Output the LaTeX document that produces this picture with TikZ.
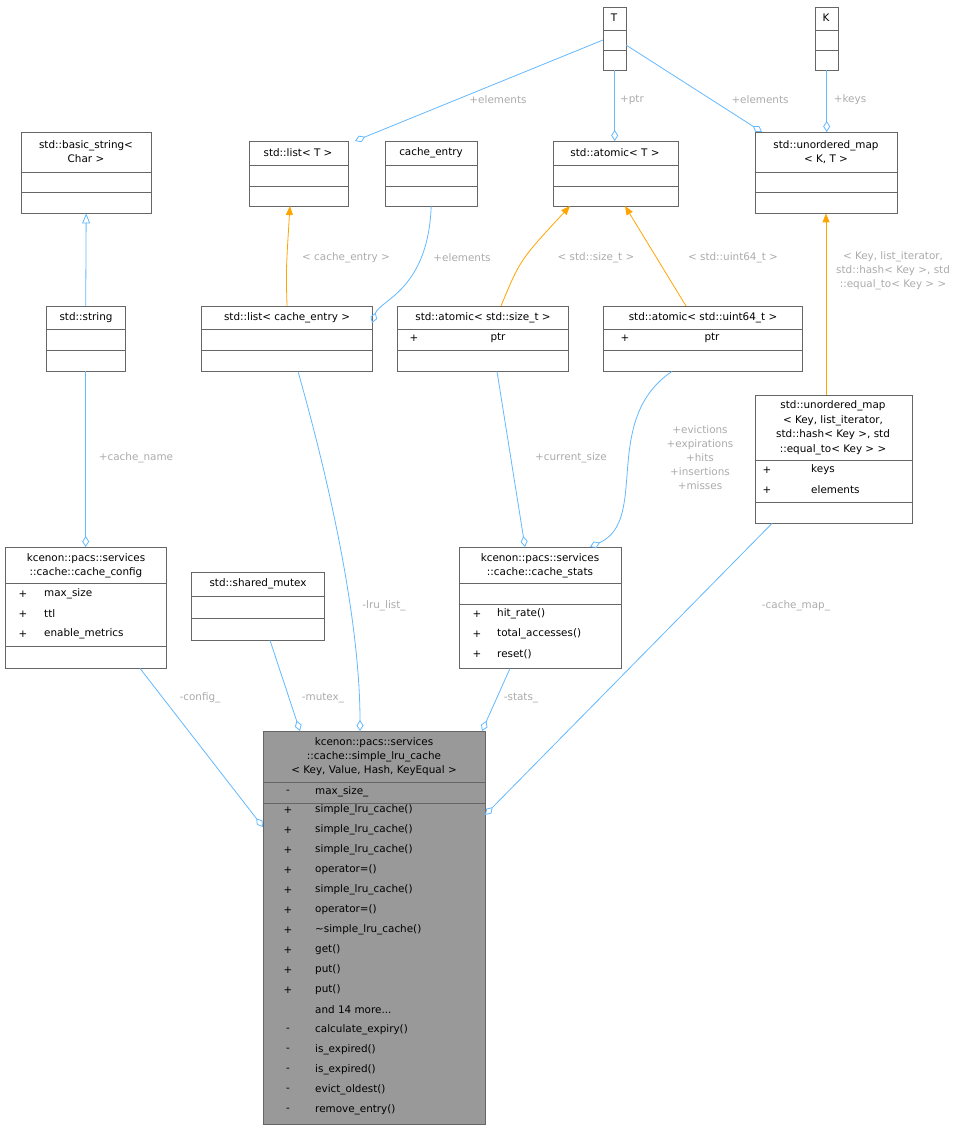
\documentclass[tikz,border=0pt]{standalone}
\usepackage{fontspec}
\setmainfont{DejaVu Sans}
\usetikzlibrary{arrows.meta,calc}
\definecolor{edgeblue}{HTML}{63B8FF}
\definecolor{edgeorange}{HTML}{FFA500}
\definecolor{lblgray}{HTML}{ABABAB}
\definecolor{mainfill}{HTML}{999999}
\definecolor{boxline}{HTML}{666666}
\newcommand{\moretxt}{and 14 more...}
\begin{document}
\begin{tikzpicture}[x=1pt,y=-1pt,font=\fontsize{10.4}{14}\selectfont,
    cls/.style={draw=boxline,fill=white,anchor=north west,inner sep=0pt},
    txt/.style={inner sep=0pt},
    row/.style={inner sep=0pt,anchor=west},
    sep/.style={draw=boxline},
    memb/.style={draw=edgeblue,line width=0.8pt,-{Diamond[open,length=11pt,width=7pt]}},
    tmpl/.style={draw=edgeorange,line width=0.8pt,-{Triangle[length=9pt,width=7pt]}},
    inh/.style={draw=edgeblue,line width=0.8pt,-{Triangle[open,length=10pt,width=8pt]}},
    lbl/.style={text=lblgray,inner sep=0pt,align=center}]
  \useasboundingbox (0,0) rectangle (978,1131);
  % template parameters
  \node[cls,minimum width=23,minimum height=63] (T) at (603,7) {};
  \node[txt] at (614,18) {T};
  \draw[sep] (603,30) -- (626,30) (603,50) -- (626,50);
  \node[cls,minimum width=23,minimum height=63] (K) at (815,7) {};
  \node[txt] at (826,18) {K};
  \draw[sep] (815,30) -- (838,30) (815,50) -- (838,50);
  % top row
  \node[cls,minimum width=130,minimum height=81] (bstr) at (21,132) {};
  \node[txt,align=center] at (86,152) {std::basic\_string<\\Char >};
  \draw[sep] (21,172) -- (151,172) (21,192) -- (151,192);
  \node[cls,minimum width=99,minimum height=65] (listT) at (249,141) {};
  \node[txt] at (298,153) {std::list< T >};
  \draw[sep] (249,165) -- (348,165) (249,186) -- (348,186);
  \node[cls,minimum width=92,minimum height=65] (entry) at (385,141) {};
  \node[txt] at (431,153) {cache\_entry};
  \draw[sep] (385,165) -- (477,165) (385,186) -- (477,186);
  \node[cls,minimum width=125,minimum height=65] (atomT) at (553,141) {};
  \node[txt] at (615,153) {std::atomic< T >};
  \draw[sep] (553,165) -- (678,165) (553,186) -- (678,186);
  \node[cls,minimum width=142,minimum height=81] (mapKT) at (755,132) {};
  \node[txt,align=center] at (826,152) {std::unordered\_map\\< K, T >};
  \draw[sep] (755,172) -- (897,172) (755,192) -- (897,192);
  % second row
  \node[cls,minimum width=79,minimum height=65] (str) at (46,306) {};
  \node[txt] at (86,318) {std::string};
  \draw[sep] (46,329) -- (125,329) (46,350) -- (125,350);
  \node[cls,minimum width=171,minimum height=65] (listE) at (201,306) {};
  \node[txt] at (287,318) {std::list< cache\_entry >};
  \draw[sep] (201,329) -- (372,329) (201,350) -- (372,350);
  \node[cls,minimum width=171,minimum height=65] (atomS) at (397,306) {};
  \node[txt] at (483,318) {std::atomic< std::size\_t >};
  \draw[sep] (397,329) -- (568,329) (397,350) -- (568,350);
  \node[txt] at (414,338) {+}; \node[txt] at (498,338) {ptr};
  \node[cls,minimum width=199,minimum height=65] (atomU) at (603,306) {};
  \node[txt] at (703,318) {std::atomic< std::uint64\_t >};
  \draw[sep] (603,329) -- (802,329) (603,350) -- (802,350);
  \node[txt] at (625,338) {+}; \node[txt] at (712,338) {ptr};
  % unordered_map instance
  \node[cls,minimum width=157,minimum height=128] (map) at (755,395) {};
  \node[txt,align=center,font=\fontsize{10.4}{14.5}\selectfont] at (833,428) {std::unordered\_map\\< Key, list\_iterator,\\std::hash< Key >, std\\::equal\_to< Key > >};
  \draw[sep] (755,460) -- (912,460) (755,502) -- (912,502);
  \node[txt] at (767,470) {+}; \node[row] at (811,470) {keys};
  \node[txt] at (767,490) {+}; \node[row] at (811,490) {elements};
  % third row
  \node[cls,minimum width=161,minimum height=121] (config) at (5,547) {};
  \node[txt,align=center] at (86,566) {kcenon::pacs::services\\::cache::cache\_config};
  \draw[sep] (5,583) -- (166,583) (5,646) -- (166,646);
  \node[txt] at (23,594) {+}; \node[row] at (44,594) {max\_size};
  \node[txt] at (23,614) {+}; \node[row] at (44,614) {ttl};
  \node[txt] at (23,634) {+}; \node[row] at (44,634) {enable\_metrics};
  \node[cls,minimum width=133,minimum height=68] (mutex) at (191,572) {};
  \node[txt] at (258,584) {std::shared\_mutex};
  \draw[sep] (191,596) -- (324,596) (191,618) -- (324,618);
  \node[cls,minimum width=162,minimum height=121] (stats) at (459,547) {};
  \node[txt,align=center] at (540,566) {kcenon::pacs::services\\::cache::cache\_stats};
  \draw[sep] (459,583) -- (621,583) (459,604) -- (621,604);
  \node[txt] at (477,614) {+}; \node[row] at (497,614) {hit\_rate()};
  \node[txt] at (477,634) {+}; \node[row] at (497,634) {total\_accesses()};
  \node[txt] at (477,654) {+}; \node[row] at (497,654) {reset()};
  % main class
  \node[cls,fill=mainfill,minimum width=222,minimum height=393] (lru) at (263,731) {};
  \node[txt,align=center] at (374,757) {kcenon::pacs::services\\::cache::simple\_lru\_cache\\< Key, Value, Hash, KeyEqual >};
  \draw[sep] (263,782) -- (485,782) (263,803) -- (485,803);
  \node[txt] at (288,792) {-}; \node[row] at (315,792) {max\_size\_};
  \foreach \s/\m [count=\i from 0] in {+/simple\_lru\_cache(),+/simple\_lru\_cache(),
      +/simple\_lru\_cache(),+/operator=(),+/simple\_lru\_cache(),+/operator=(),
      +/\textasciitilde simple\_lru\_cache(),+/get(),+/put(),+/put(),{}/\moretxt,
      -/calculate\_expiry(),-/is\_expired(),-/is\_expired(),-/evict\_oldest(),-/remove\_entry()}
    {\node[txt] at (288,810+20*\i) {\s}; \node[row] at (315,810+20*\i) {\m};}
  % connectors
  \draw[memb] (T.west |- 0,40) -- (355,141);
  \node[lbl] at (498,100) {+elements};
  \draw[memb] (T.south) -- (atomT.north -| T.south);
  \node[lbl] at (632,100) {+ptr};
  \draw[memb] (626,45) -- (762,132);
  \node[lbl] at (760,100) {+elements};
  \draw[memb] (K.south) -- (mapKT.north -| K.south);
  \node[lbl] at (850,100) {+keys};
  \draw[inh] (str.north) -- (bstr.south);
  \draw[tmpl] (listE.north -| 287,0) .. controls (286,270) .. (290,206);
  \node[lbl] at (346,258) {< cache\_entry >};
  \draw[memb] (entry.south) .. controls (428,290) and (380,300) .. (372,323);
  \node[lbl] at (462,258) {+elements};
  \draw[tmpl] (atomS.north -| 501,0) .. controls (520,260) .. (570,206);
  \node[lbl] at (596,258) {< std::size\_t >};
  \draw[tmpl] (atomU.north -| 686,0) -- (625,206);
  \node[lbl] at (733,258) {< std::uint64\_t >};
  \draw[tmpl] (map.north -| 826,0) -- (mapKT.south -| 826,0);
  \node[lbl] at (893,271) {< Key, list\_iterator,\\std::hash< Key >, std\\::equal\_to< Key > >};
  \draw[memb] (str.south) -- (config.north -| str.south);
  \node[lbl] at (136,458) {+cache\_name};
  \draw[memb] (atomS.south -| 497,0) -- (525,547);
  \node[lbl] at (571,458) {+current\_size};
  \draw[memb] (atomU.south -| 672,0) .. controls (600,420) and (650,520) .. (590,547);
  \node[lbl] at (700,458) {+evictions\\+expirations\\+hits\\+insertions\\+misses};
  \draw[memb] (config.south -| 140,0) -- (263,827);
  \node[lbl] at (200,698) {-config\_};
  \draw[memb] (mutex.south -| 270,0) -- (300,731);
  \node[lbl] at (323,698) {-mutex\_};
  \draw[memb] (listE.south -| 298,0) .. controls (340,520) and (360,640) .. (360,731);
  \node[lbl] at (384,606) {-lru\_list\_};
  \draw[memb] (stats.south -| 510,0) -- (482,731);
  \node[lbl] at (521,698) {-stats\_};
  \draw[memb] (map.south -| 772,0) -- (485,815);
  \node[lbl] at (796,606) {-cache\_map\_};
\end{tikzpicture}
\end{document}
